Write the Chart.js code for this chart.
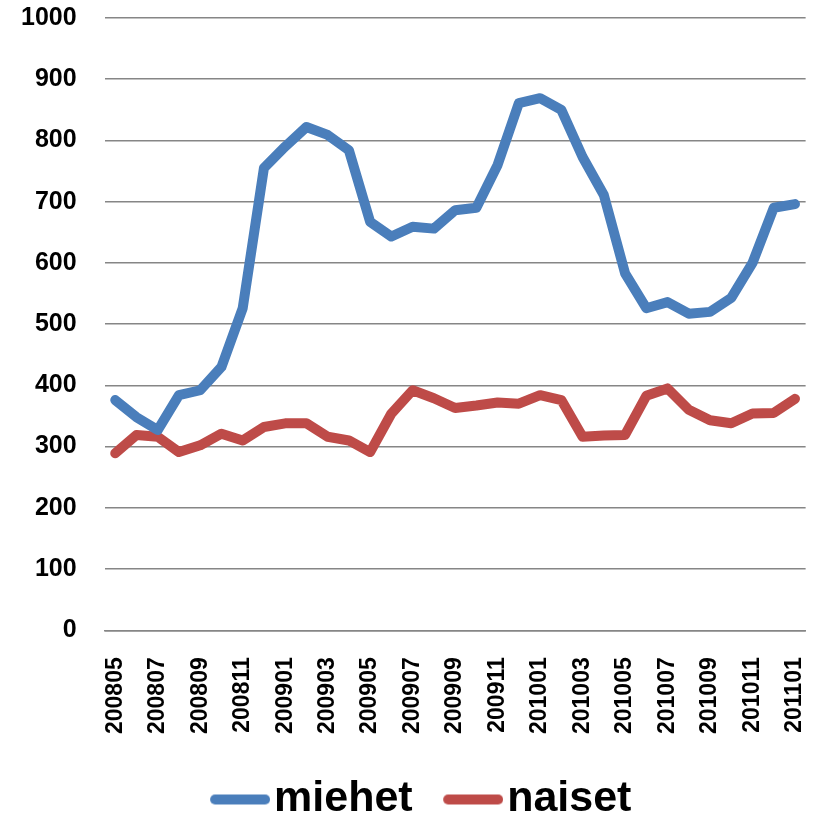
<!DOCTYPE html>
<html>
<head>
<meta charset="utf-8">
<script src="https://cdn.jsdelivr.net/npm/chart.js@4"></script>
<style>
  body { margin: 0; background: #fff; }
  #wrap { width: 818px; height: 819px; }
</style>
</head>
<body>
<div id="wrap"><canvas id="lineChart" width="818" height="819"></canvas></div>
<script>
// months 200805 .. 201101
var months = ["200805","200806","200807","200808","200809","200810","200811","200812",
  "200901","200902","200903","200904","200905","200906","200907","200908","200909","200910","200911","200912",
  "201001","201002","201003","201004","201005","201006","201007","201008","201009","201010","201011","201012",
  "201101"];
var miehet = [376,348,327,384,392,430,526,755,790,822,809,784,667,643,659,656,686,
  690,760,861,869,850,773,711,583,526,536,517,520,543,600,690,696];
var naiset = [289,319,316,291,302,321,310,332,338,338,316,310,291,354,392,379,363,
  367,372,370,384,376,316,318,319,383,395,360,343,338,354,355,378];
var yTicks = [0,100,200,300,400,500,600,700,800,900,1000];

var blue = "#4A7EBB";
var red = "#BE4B48";

// legend marker: thick rounded line, sitting in the right part of the image
function legendLine(color)
{
	var c = document.createElement("canvas");
	c.width = 80;
	c.height = 12;
	var g = c.getContext("2d");
	g.strokeStyle = color;
	g.lineWidth = 10;
	g.lineCap = "round";
	g.beginPath();
	g.moveTo(25, 6);
	g.lineTo(75, 6);
	g.stroke();
	return c;
}

function lineSet(label, data, color)
{
	return {
		label: label,
		data: data,
		borderColor: color,
		backgroundColor: color,
		borderWidth: 10,
		borderCapStyle: "round",
		borderJoinStyle: "round",
		pointRadius: 0,
		pointStyle: legendLine(color),
		tension: 0,
		fill: false
	};
}

var chart = new Chart("lineChart",
{
	type: "line",
	data:
	{
		labels: months,
		datasets: [lineSet("miehet", miehet, blue), lineSet("naiset", naiset, red)]
	},
	options:
	{
		responsive: false,
		animation: false,
		layout: { padding: { left: 21, right: 0, top: 18, bottom: -12 } },
		plugins:
		{
			tooltip: { enabled: false },
			legend:
			{
				position: "bottom",
				labels:
				{
					usePointStyle: true,
					pointStyleWidth: 45,
					boxWidth: 45,
					boxHeight: 10,
					padding: 28,
					color: "#000",
					font: { family: "Liberation Sans", size: 43, weight: "bold" }
				}
			}
		},
		scales:
		{
			x:
			{
				offset: true,
				grid: { display: true, drawOnChartArea: false, drawTicks: true, tickLength: 27, tickColor: "rgba(0,0,0,0)" },
				border: { display: true, color: "#868686", width: 1.5 },
				afterFit: function(axis) { axis.height += 16; },
				ticks:
				{
					autoSkip: false,
					maxRotation: 90,
					minRotation: 90,
					padding: 0,
					color: "#000",
					font: { family: "Liberation Sans", size: 23, weight: "bold", lineHeight: 1 },
					callback: function(v, i) { return i % 2 === 0 ? months[i] : ""; }
				}
			},
			y:
			{
				min: 0,
				max: 1000,
				afterBuildTicks: function(axis) { axis.ticks = yTicks.map(function(v) { return { value: v }; }); },
				grid: { color: "#868686", lineWidth: 1.5, drawTicks: true, tickLength: 28, tickColor: "rgba(0,0,0,0)" },
				border: { display: false },
				ticks:
				{
					padding: 0,
					color: "#000",
					font: { family: "Liberation Sans", size: 25, weight: "bold" },
					callback: function(v) { return String(v); }
				}
			}
		}
	}
});
</script>
</body>
</html>
